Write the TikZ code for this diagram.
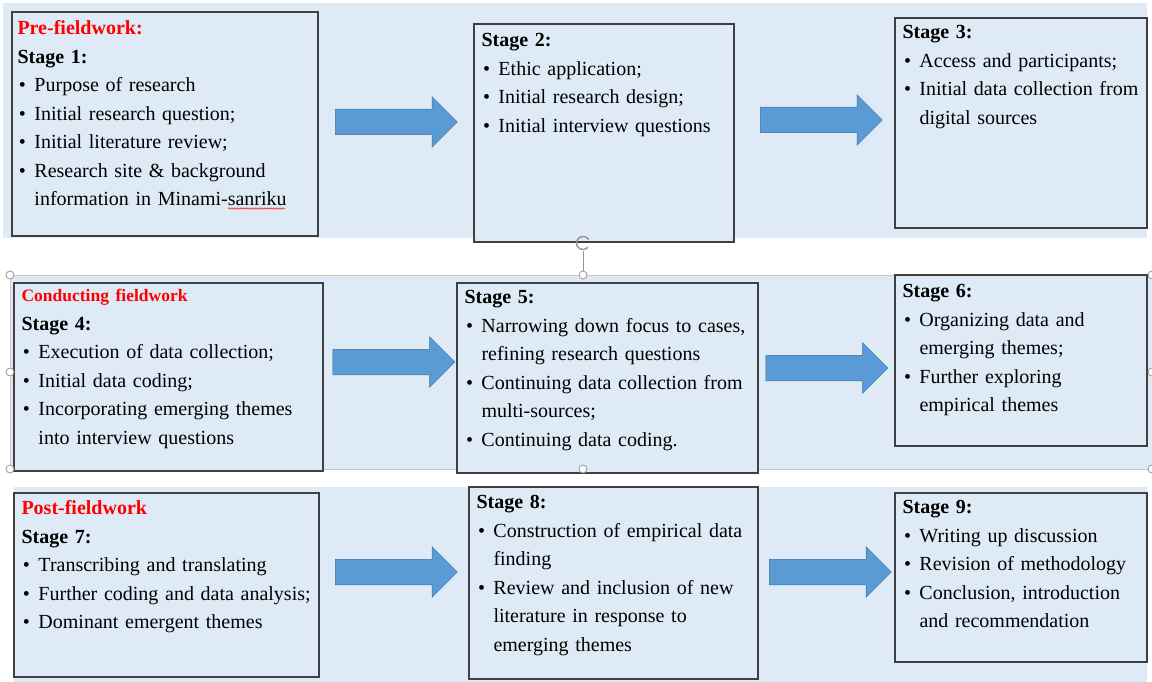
\documentclass[tikz,border=0pt]{standalone}
\usepackage{fontspec}
\setmainfont{Liberation Serif}
\usepackage{xcolor}
\usepackage{tikz}
\usetikzlibrary{shapes.arrows,positioning,fit,decorations.pathmorphing}
\definecolor{bandblue}{RGB}{222,234,246}
\definecolor{arrowblue}{RGB}{91,155,213}
\definecolor{arrowedge}{RGB}{65,113,156}
\definecolor{boxedge}{RGB}{64,64,64}
\definecolor{handlegray}{RGB}{150,150,150}
\definecolor{framegray}{RGB}{200,200,200}

\newcommand{\bul}{\makebox[17pt][l]{\hspace{1.5pt}\textbullet}}
\newcommand{\cnt}{\hspace*{17pt}}

\begin{document}
\begin{tikzpicture}[x=1pt,y=-1pt,
    stagebox/.style={draw=boxedge, line width=1.4pt, fill=bandblue, inner sep=0pt},
    stagetext/.style={anchor=north west, inner sep=0pt, text width=290pt, align=left,
        font=\fontsize{20pt}{28.5pt}\selectfont},
    flow/.style={single arrow, draw=arrowedge, line width=0.5pt, fill=arrowblue,
        inner xsep=0pt, inner ysep=12.5pt, text height=0pt, text depth=0pt,
        minimum height=122pt, single arrow head extend=12.5pt},
    handle/.style={circle, draw=handlegray, fill=white, line width=0.8pt, minimum size=8pt, inner sep=0pt}]
\useasboundingbox (0,0) rectangle (1152,682);

% Bands
\fill[bandblue] (3,3) rectangle (1147,238);
\fill[bandblue] (10,275) rectangle (1152,469);
\fill[bandblue] (14,487) rectangle (1147,682);
\draw[framegray, line width=0.8pt] (10,275) rectangle (1160,469);

% Stage boxes
\foreach \n/\xa/\ya/\xb/\yb in {1/12/12/318/236, 2/474/24/734/242, 3/895/18/1147/228,
    4/14/283/323/471, 5/457/283/758/473, 6/895/275/1147/446,
    7/14/493/319/677, 8/469/487/758/679, 9/895/493/1147/662}
  \node[stagebox, fit={(\xa,\ya) (\xb,\yb)}] (box\n) {};

% Texts
\node[stagetext, below right=9pt and 6pt of box1.north west] (txt1) {%
  {\color{red}\bfseries Pre-fieldwork:}\\
  {\bfseries Stage 1:}\\
  \bul Purpose of research\\
  \bul Initial research question;\\
  \bul Initial literature review;\\
  \bul Research site \& background\\
  \cnt information in Minami-sanriku};
\node[stagetext, below right=10pt and 8pt of box2.north west] (txt2) {%
  {\bfseries Stage 2:}\\
  \bul Ethic application;\\
  \bul Initial research design;\\
  \bul Initial interview questions};
\node[stagetext, below right=8pt and 8pt of box3.north west] (txt3) {%
  {\bfseries Stage 3:}\\
  \bul Access and participants;\\
  \bul Initial data collection from\\
  \cnt digital sources};
\node[stagetext, below right=7pt and 8pt of box4.north west] (txt4) {%
  {\color{red}\bfseries\fontsize{17.5pt}{28.5pt}\selectfont Conducting fieldwork}\\
  {\bfseries Stage 4:}\\
  \bul Execution of data collection;\\
  \bul Initial data coding;\\
  \bul Incorporating emerging themes\\
  \cnt into interview questions};
\node[stagetext, below right=8pt and 8pt of box5.north west] (txt5) {%
  {\bfseries Stage 5:}\\
  \bul Narrowing down focus to cases,\\
  \cnt refining research questions\\
  \bul Continuing data collection from\\
  \cnt multi-sources;\\
  \bul Continuing data coding.};
\node[stagetext, below right=10pt and 8pt of box6.north west] (txt6) {%
  {\bfseries Stage 6:}\\
  \bul Organizing data and\\
  \cnt emerging themes;\\
  \bul Further exploring\\
  \cnt empirical themes};
\node[stagetext, below right=8pt and 8pt of box7.north west] (txt7) {%
  {\color{red}\bfseries Post-fieldwork}\\
  {\bfseries Stage 7:}\\
  \bul Transcribing and translating\\
  \bul Further coding and data analysis;\\
  \bul Dominant emergent themes};
\node[stagetext, below right=9pt and 8pt of box8.north west] (txt8) {%
  {\bfseries Stage 8:}\\
  \bul Construction of empirical data\\
  \cnt finding\\
  \bul Review and inclusion of new\\
  \cnt literature in response to\\
  \cnt emerging themes};
\node[stagetext, below right=8pt and 8pt of box9.north west] (txt9) {%
  {\bfseries Stage 9:}\\
  \bul Writing up discussion\\
  \bul Revision of methodology\\
  \bul Conclusion, introduction\\
  \cnt and recommendation};

% spell-check mark
\draw[red, line width=0.5pt, decorate, decoration={snake, amplitude=0.7pt, segment length=3pt}]
  (228,208.5) -- (285,208.5);

% Block arrows
\node[flow] (flow12) at (390,122) {};
\node[flow] (flow23) at (815,120) {};
\node[flow] (flow45) at (387.5,362) {};
\node[flow] (flow56) at (820.5,368) {};
\node[flow] (flow78) at (390,572) {};
\node[flow] (flow89) at (824,572) {};

% Selection handles
\node[handle] (hTL) at (10,275) {};
\node[handle] (hML) at (10,372) {};
\node[handle] (hBL) at (10,469) {};
\node[handle] (hTM) at (583,275) {};
\node[handle] (hBM) at (583,469) {};
\node[handle] (hTR) at (1152,275) {};
\node[handle] (hMR) at (1152,372) {};
\node[handle] (hBR) at (1152,469) {};
\node[circle, inner sep=0pt, minimum size=16pt] (hrot) at (583,243) {};
\draw[handlegray, line width=0.8pt] (hrot) -- (hTM);
\draw[handlegray, line width=1.5pt] (hrot.center) ++(30:6.5pt) arc[start angle=30, end angle=320, radius=6.5pt];
\end{tikzpicture}
\end{document}
